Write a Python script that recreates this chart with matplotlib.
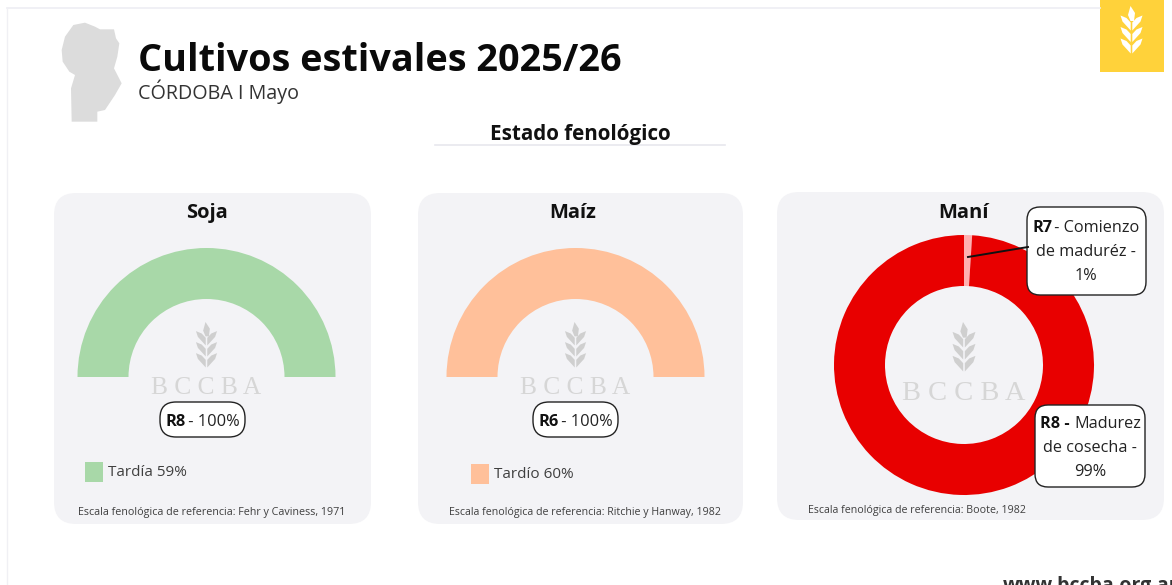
import matplotlib
matplotlib.use('Agg')
import matplotlib.pyplot as plt
from matplotlib.patches import FancyBboxPatch, Polygon, Rectangle

W, H = 1172, 585
plt.rcParams['font.family'] = ['Open Sans', 'DejaVu Sans']

# datos
soja_valores = [100]
maiz_valores = [100]
mani_valores = [1, 99]
soja_color = '#a8d8a8'
maiz_color = '#ffc09a'
mani_colores = ['#ffb0b0', '#e80000']

DARK = '#3f3f3f'
CARD = '#f3f3f6'

cordoba = [(100, 75), (135, 68), (165, 80), (180, 88), (222, 88), (228, 115), (238, 130),
           (232, 170), (222, 205), (245, 250), (225, 285), (195, 330), (172, 335), (172, 365),
           (95, 365), (93, 265), (105, 225), (88, 215), (68, 185), (65, 150), (75, 110)]

fig = plt.figure(figsize=(W / 100, H / 100), dpi=100, facecolor='white')


def pixel_axes(z):
    a = fig.add_axes([0, 0, 1, 1], zorder=z)
    a.set_xlim(0, W)
    a.set_ylim(H, 0)
    a.axis('off')
    a.patch.set_alpha(0)
    return a


bg = pixel_axes(0)
fg = pixel_axes(3)


def card(x0, y0, x1, y1):
    r = 22
    bg.add_patch(FancyBboxPatch((x0 + r, y0 + r), x1 - x0 - 2 * r, y1 - y0 - 2 * r,
                                boxstyle=f'round,pad={r},rounding_size={r}', fc=CARD, ec='none'))


def donut_axes(cx, cy, R):
    a = fig.add_axes([(cx - R) / W, 1 - (cy + R) / H, 2 * R / W, 2 * R / H], zorder=1)
    a.patch.set_alpha(0)
    return a


def wheat(cx, top, h, color, a=fg):
    # espiga: hoja central y tres pares de hojas laterales
    s = h / 48
    a.add_patch(Polygon([(cx - 1, top), (cx + 3.5 * s, top + 7 * s), (cx + 2.5 * s, top + 15 * s),
                         (cx - 1, top + 15 * s), (cx - 3.5 * s, top + 9 * s)], fc=color, ec='none'))
    for i in range(3):
        y = top + (9.5 + 11.5 * i) * s
        for d in (-1, 1):
            a.add_patch(Polygon([(cx + d * 0.8 * s, y + 15 * s), (cx + d * 0.8 * s, y + 7 * s),
                                 (cx + d * 5 * s, y + 2.5 * s), (cx + d * 11 * s, y),
                                 (cx + d * 9 * s, y + 6 * s)], fc=color, ec='none'))


def watermark(cx, top, h, y_txt, size):
    wheat(cx, top, h, '#cfcfcf')
    fg.text(cx, y_txt, 'B C C B A', family='Liberation Serif', fontsize=size, color='#d6d6d6',
            ha='center', va='center')


def label_box(x0, y0, x1, y1, r):
    fg.add_patch(FancyBboxPatch((x0 + r, y0 + r), x1 - x0 - 2 * r, y1 - y0 - 2 * r,
                                boxstyle=f'round,pad={r},rounding_size={r}',
                                fc='white', ec='#222222', lw=1.0))


def txt(x, y, s, size=11, weight='normal', color=DARK, ha='left'):
    fg.text(x, y, s, fontsize=size, fontweight=weight, color=color, ha=ha, va='center')


# marco y encabezado
bg.plot([7, 1100], [8, 8], color='#eeeef4', lw=1.2)
bg.plot([7, 7], [8, 585], color='#f0f0f4', lw=1.0)
bg.add_patch(Rectangle((1100, 0), 64, 72, fc='#ffd23a', ec='none'))
wheat(1131.5, 6, 48, 'white', bg)
bg.add_patch(Polygon([(x / 3 + 40, y / 3) for x, y in cordoba], fc='#dcdcdc', ec='none'))

txt(138, 61, 'Cultivos estivales 2025/26', 27.2, 'bold', '#0a0a0a')
txt(138, 92, 'CÓRDOBA I Mayo', 14.2, color='#333333')
txt(580, 134.5, 'Estado fenológico', 14.9, 'bold', '#111111', 'center')
bg.plot([435, 725], [145, 145], color='#e8e8ee', lw=1.2)
txt(1003, 586, 'www.bccba.org.ar', 14, 'bold', '#333333')

# tarjetas
card(54, 193, 371, 524)
card(418, 193, 743, 524)
card(777, 192, 1164, 520)
txt(206.5, 213, 'Soja', 14.5, 'bold', '#111111', 'center')
txt(572.5, 213, 'Maíz', 14.5, 'bold', '#111111', 'center')
txt(964, 213, 'Maní', 14.5, 'bold', '#111111', 'center')

# semicirculos
for cx, vals, col in [(206.5, soja_valores, soja_color), (575.5, maiz_valores, maiz_color)]:
    a = donut_axes(cx, 377, 129)
    a.pie(vals + vals, colors=[col, 'none'], startangle=180, counterclock=False, radius=1,
          wedgeprops={'width': 1 - 78 / 129})
    a.set_xlim(-1, 1)
    a.set_ylim(-1, 1)

# dona mani
a = donut_axes(964, 365, 130)
a.pie(mani_valores, colors=mani_colores, startangle=90, counterclock=False, radius=1,
      wedgeprops={'width': 1 - 79 / 130})
a.set_xlim(-1, 1)
a.set_ylim(-1, 1)

watermark(206.5, 322, 46, 387.5, 18.3)
watermark(575.5, 322, 46, 387.5, 18.3)
watermark(964, 322, 50, 393, 20.5)

# etiquetas
label_box(160, 402, 245, 437, 16)
txt(165.5, 422.5, 'R8', 11.8, 'bold', '#111111')
txt(184, 422.5, ' - 100%', 11.8, color='#222222')
label_box(533, 402, 618, 437, 16)
txt(538.5, 422.5, 'R6', 11.8, 'bold', '#111111')
txt(557, 422.5, ' - 100%', 11.8, color='#222222')

fg.plot([968, 1028], [257, 247], color='#111111', lw=1.4)
label_box(1027, 207, 1146, 295, 13)
txt(1032, 228, 'R7', 11.7, 'bold', '#111111')
txt(1050, 228, ' - Comienzo', 11.7, color='#222222')
txt(1086, 252, 'de maduréz -', 11.7, color='#222222', ha='center')
txt(1086, 275.5, '1%', 11.7, color='#222222', ha='center')

label_box(1035, 405, 1145, 487, 13)
txt(1040, 424, 'R8 -', 11.7, 'bold', '#111111')
txt(1074, 424, 'Madurez', 11.7, color='#222222')
txt(1090, 447.5, 'de cosecha -', 11.7, color='#222222', ha='center')
txt(1090, 471.5, '99%', 11.7, color='#222222', ha='center')

# leyendas
fg.add_patch(Rectangle((85, 462), 18, 20, fc=soja_color, ec='none'))
txt(108, 473, 'Tardía 59%', 11)
fg.add_patch(Rectangle((471, 464), 18, 20, fc=maiz_color, ec='none'))
txt(494, 474.5, 'Tardío 60%', 11)

# fuentes
txt(77.5, 513, 'Escala fenológica de referencia: Fehr y Caviness, 1971', 7.75)
txt(449, 512.5, 'Escala fenológica de referencia: Ritchie y Hanway, 1982', 7.7)
txt(807.5, 510, 'Escala fenológica de referencia: Boote, 1982', 7.7)

fig.savefig('out.png', dpi=100)
